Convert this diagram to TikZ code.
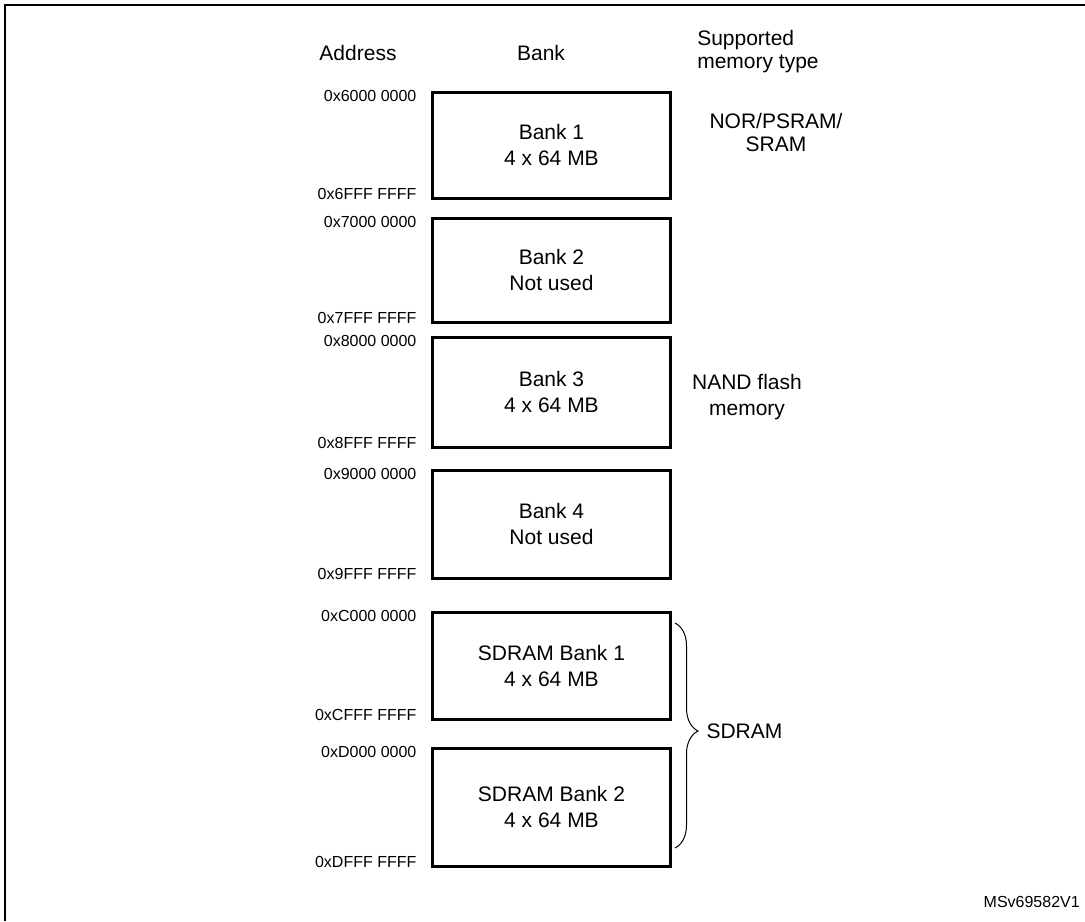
\documentclass[tikz,border=0pt]{standalone}
\usepackage{fontspec}
\setmainfont{Liberation Sans}
\usetikzlibrary{positioning}
\usetikzlibrary{decorations.pathreplacing}

\begin{document}
\begin{tikzpicture}[x=0.75pt,y=-0.75pt]
  \tikzset{bankbox/.style={rectangle, draw=black, line width=2.25pt, minimum width=179pt, align=center, inner sep=0pt, font=\fontsize{15.75}{19.5}\selectfont}};
  \tikzset{addr/.style={inner sep=0pt, font=\fontsize{12}{14}\selectfont}};
  \tikzset{head/.style={inner sep=0pt, align=center, font=\fontsize{15.75}{17.25}\selectfont}};
  \tikzset{mybrace/.style={decorate, decoration={brace, amplitude=17.25pt, aspect=0.48}, line width=0.75pt}};
  \useasboundingbox (0,0) rectangle (1085,921);
  \draw [line width=1.5pt] (5,921) -- (5,5) -- (1085,5);

  \node[head] (haddr) at (358,53) {Address};
  \node[head] (hbank) at (541,53) {Bank};
  \node[head, anchor=west, align=left] (htype) at (697,51.5) {Supported\\memory type};

  \node[bankbox, minimum height=79.5pt] (b1) at (551.5,145) {Bank 1\\4 x 64 MB};
  \node[bankbox, minimum height=78pt] (b2) at (551.5,270) {Bank 2\\Not used};
  \node[bankbox, minimum height=82.5pt] (b3) at (551.5,392) {Bank 3\\4 x 64 MB};
  \node[bankbox, minimum height=81pt] (b4) at (551.5,524) {Bank 4\\Not used};
  \node[bankbox, minimum height=80.25pt] (sd1) at (551.5,665.5) {SDRAM Bank 1\\4 x 64 MB};
  \node[bankbox, minimum height=88.5pt] (sd2) at (551.5,807) {SDRAM Bank 2\\4 x 64 MB};

  \node[addr, below left=0pt and 10.5pt of b1.north west] (a1s) {0x6000 0000};
  \node[addr, above left=0pt and 10.5pt of b1.south west] (a1e) {0x6FFF FFFF};
  \node[addr, below left=0pt and 10.5pt of b2.north west] (a2s) {0x7000 0000};
  \node[addr, above left=0pt and 10.5pt of b2.south west] (a2e) {0x7FFF FFFF};
  \node[addr, below left=0pt and 10.5pt of b3.north west] (a3s) {0x8000 0000};
  \node[addr, above left=0pt and 10.5pt of b3.south west] (a3e) {0x8FFF FFFF};
  \node[addr, below left=0pt and 10.5pt of b4.north west] (a4s) {0x9000 0000};
  \node[addr, above left=0pt and 10.5pt of b4.south west] (a4e) {0x9FFF FFFF};
  \node[addr, below left=0pt and 10.5pt of sd1.north west] (a5s) {0xC000 0000};
  \node[addr, above left=0pt and 10.5pt of sd1.south west] (a5e) {0xCFFF FFFF};
  \node[addr, below left=0pt and 10.5pt of sd2.north west] (a6s) {0xD000 0000};
  \node[addr, above left=0pt and 10.5pt of sd2.south west] (a6e) {0xDFFF FFFF};

  \node[head] (tnor) at (776,132) {NOR/PSRAM/\\SRAM};
  \node[head, font=\fontsize{15.75}{19.5}\selectfont] (tnand) at (747,397) {NAND flash\\memory};

  \coordinate (brtop) at (675,623);  \coordinate (brbot) at (675,848);
  \draw [mybrace] (brtop) -- (brbot) node [pos=0.48, right=23.25pt, inner sep=0pt, font=\fontsize{15.75}{19.5}\selectfont] (tsdram) {SDRAM};

  \node[addr, anchor=east] (fig) at (1080,902) {MSv69582V1};
\end{tikzpicture}
\end{document}
